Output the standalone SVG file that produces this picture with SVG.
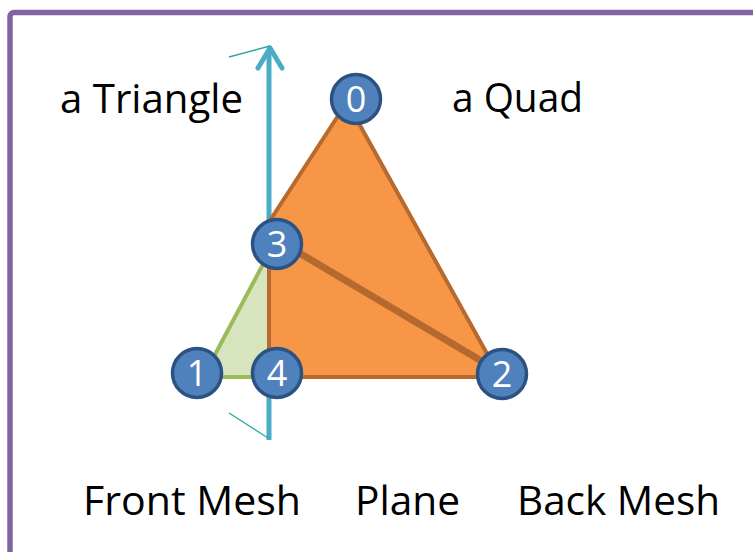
<svg xmlns="http://www.w3.org/2000/svg" width="753" height="552" viewBox="0 0 753 552">
<defs>
<style>
.lbl{font-family:"Open Sans","Liberation Sans",sans-serif;font-size:41px;fill:#000}
.node circle{fill:#4F81BD;stroke:#2C5282;stroke-width:3.5}
.node text{font-family:"Open Sans","Liberation Sans",sans-serif;font-size:36px;fill:#fff;text-anchor:middle}
.thin{stroke:#2AA7A7;stroke-width:1.3;fill:none}
</style>
</defs>
<rect x="0" y="0" width="753" height="552" fill="#fff"/>
<rect x="10" y="12.5" width="800" height="600" rx="4" fill="none" stroke="#8064A2" stroke-width="5.5"/>
<g id="connectors">
<line x1="269" y1="440" x2="269" y2="49" stroke="#4BACC6" stroke-width="5"/>
<polyline points="258,68 270,48 282,68" fill="none" stroke="#4BACC6" stroke-width="5" stroke-linecap="round" stroke-linejoin="round"/>
<line class="thin" x1="229" y1="57" x2="270" y2="46"/>
<line class="thin" x1="229" y1="413" x2="268" y2="438"/>
</g>
<g id="shapes">
<polygon id="front" points="269,253 203,377 269,377" fill="#D7E4BD" stroke="#9BBB59" stroke-width="4" stroke-linejoin="round"/>
<polygon id="back" points="347,102 500,377 269,377 269,222" fill="#F79646" stroke="#B8692D" stroke-width="4" stroke-linejoin="round"/>
<line id="edge32" x1="269" y1="235" x2="500" y2="372" stroke="#B5692E" stroke-width="7"/>
</g>
<g id="n0" class="node"><circle cx="356" cy="99" r="24.5"/><text x="356" y="112">0</text></g>
<g id="n3" class="node"><circle cx="277" cy="244" r="24.5"/><text x="277" y="257">3</text></g>
<g id="n1" class="node"><circle cx="197" cy="373" r="24.5"/><text x="197" y="386">1</text></g>
<g id="n4" class="node"><circle cx="277" cy="373" r="24.5"/><text x="277" y="386">4</text></g>
<g id="n2" class="node"><circle cx="502" cy="374" r="24.5"/><text x="502" y="387">2</text></g>
<g id="labels">
<text class="lbl" x="60" y="113" textLength="183" lengthAdjust="spacingAndGlyphs">a Triangle</text>
<text class="lbl" x="452" y="112" textLength="131" lengthAdjust="spacingAndGlyphs">a Quad</text>
<text class="lbl" x="83" y="515" textLength="218" lengthAdjust="spacingAndGlyphs">Front Mesh</text>
<text class="lbl" x="355" y="515" textLength="105" lengthAdjust="spacingAndGlyphs">Plane</text>
<text class="lbl" x="517" y="515" textLength="203" lengthAdjust="spacingAndGlyphs">Back Mesh</text>
</g>
</svg>
